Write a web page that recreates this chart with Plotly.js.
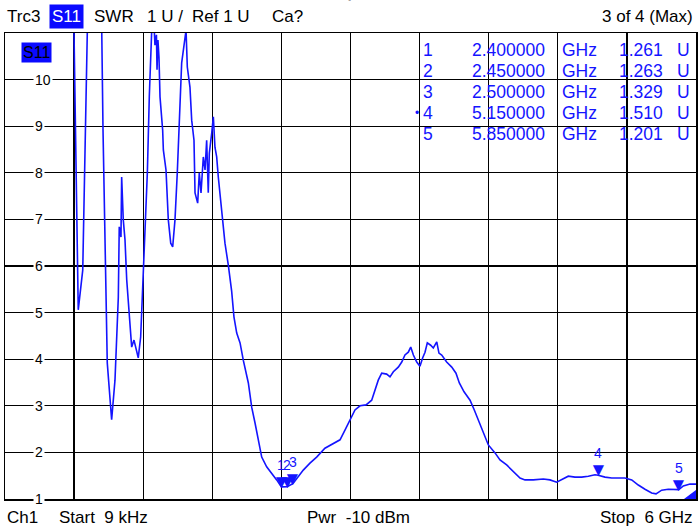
<!DOCTYPE html>
<html>
<head>
<meta charset="utf-8">
<script src="https://cdn.plot.ly/plotly-3.0.1.min.js"></script>
<style>
  body { margin: 0; background: #fff; }
  #chart { width: 700px; height: 530px; }
</style>
</head>
<body>
<div id="chart"></div>
<script>
// S11 SWR trace, frequency in GHz, SWR in U
var freqGHz = [
  0, 0.30, 0.59, 0.599, 0.617, 0.636, 0.675, 0.695, 0.715, 0.773,
  0.840, 0.851, 0.868, 0.888, 0.926, 0.955, 0.984, 0.992, 1.007, 1.013,
  1.027, 1.042, 1.057, 1.085, 1.100, 1.120, 1.137, 1.157, 1.178, 1.196,
  1.216, 1.236, 1.253, 1.265, 1.274, 1.290, 1.302, 1.315, 1.320, 1.328,
  1.337, 1.346, 1.369, 1.375, 1.398, 1.418, 1.439, 1.456, 1.476, 1.496,
  1.520, 1.534, 1.572, 1.583, 1.606, 1.621, 1.641, 1.650, 1.673, 1.687,
  1.702, 1.722, 1.737, 1.751, 1.765, 1.774, 1.795, 1.809, 1.823, 1.838,
  1.852, 1.882, 1.910, 1.939, 1.968, 1.988, 2.012, 2.041, 2.069, 2.113,
  2.142, 2.171, 2.199, 2.229, 2.272, 2.316, 2.359, 2.400, 2.450, 2.500,
  2.561, 2.590, 2.648, 2.706, 2.778, 2.851, 2.909, 2.952, 2.981, 3.010,
  3.039, 3.083, 3.135, 3.184, 3.213, 3.241, 3.271, 3.314, 3.343, 3.372,
  3.415, 3.445, 3.473, 3.502, 3.523, 3.546, 3.575, 3.603, 3.627, 3.647,
  3.667, 3.696, 3.719, 3.749, 3.768, 3.792, 3.835, 3.879, 3.916, 3.945,
  3.986, 4.038, 4.075, 4.110, 4.153, 4.197, 4.255, 4.298, 4.356, 4.414,
  4.472, 4.515, 4.587, 4.674, 4.732, 4.790, 4.848, 4.891, 4.949, 5.007,
  5.065, 5.123, 5.150, 5.210, 5.268, 5.325, 5.383, 5.442, 5.499, 5.557,
  5.615, 5.653, 5.702, 5.759, 5.850, 5.890, 5.948, 6.000
];
var swrU = [
  40, 25, 12.5, 11.06, 8.21, 5.06, 5.91, 8.70, 11.06, 14,
  11.06, 8.92, 6.77, 3.92, 2.70, 3.55, 5.33, 6.84, 6.62, 7.91,
  6.99, 6.56, 5.70, 4.78, 4.26, 4.41, 4.20, 4.03, 4.48, 5.64,
  6.62, 8.00, 9.63, 10.70, 11.06, 11.40, 10.74, 10.96, 10.21, 10.85,
  10.48, 9.63, 8.92, 8.49, 8.06, 6.99, 6.49, 6.41, 6.99, 8.00,
  9.28, 10.36, 11.06, 10.27, 9.84, 9.13, 8.70, 7.57, 7.35, 8.00,
  7.57, 8.34, 8.06, 8.70, 7.57, 8.42, 8.85, 9.20, 8.55, 8.34,
  7.91, 7.20, 6.49, 6.02, 5.46, 4.91, 4.56, 4.35, 3.98, 3.49,
  2.97, 2.63, 2.27, 1.90, 1.69, 1.56, 1.41, 1.261, 1.263, 1.329,
  1.52, 1.62, 1.77, 1.90, 2.09, 2.20, 2.27, 2.48, 2.63, 2.76,
  2.91, 3.00, 3.02, 3.12, 3.34, 3.55, 3.70, 3.68, 3.62, 3.73,
  3.83, 3.94, 4.09, 4.15, 4.26, 4.09, 3.94, 3.85, 4.03, 4.15,
  4.35, 4.30, 4.24, 4.37, 4.13, 4.09, 3.94, 3.83, 3.70, 3.49,
  3.30, 3.12, 2.91, 2.70, 2.42, 2.16, 1.99, 1.84, 1.73, 1.58,
  1.45, 1.41, 1.41, 1.43, 1.41, 1.36, 1.43, 1.49, 1.47, 1.47,
  1.49, 1.52, 1.510, 1.47, 1.45, 1.45, 1.45, 1.41, 1.30, 1.21,
  1.13, 1.11, 1.19, 1.21, 1.201, 1.28, 1.32, 1.32
];

// markers
var markerNo   = [1, 2, 3, 4, 5];
var markerFreq = [2.40, 2.45, 2.50, 5.15, 5.85];
var markerSwr  = [1.261, 1.263, 1.329, 1.510, 1.201];
var activeMarker = 4;

var yTicks = [1, 2, 3, 4, 5, 6, 7, 8, 9, 10];

var blue = '#1414ff';
var fontFam = 'Liberation Sans, Arial, sans-serif';

var trace = {
    x: freqGHz,
    y: swrU,
    type: 'scatter',
    mode: 'lines',
    line: { color: blue, width: 1.6 },
    hoverinfo: 'skip'
};

var ann = [];

// y scale labels sit on the grid, with the line cut away
yTicks.forEach(function (v) {
    ann.push({ xref: 'paper', yref: 'y', x: 0.04, y: v, yanchor: 'middle', text: String(v),
        showarrow: false, bgcolor: '#fff', borderpad: 1,
        font: { size: 14, color: '#000' } });
});

ann.push({ xref: 'paper', yref: 'paper', x: 0.045, y: 0.959, xanchor: 'center', yanchor: 'middle',
    text: 'S11', showarrow: false, bgcolor: '#0a0aff', borderpad: 1,
    font: { size: 16, color: '#000' } });

// marker table
var rowY = [0.9635, 0.9185, 0.8734, 0.8283, 0.7833];
markerNo.forEach(function (n, i) {
    var f = { size: 17.5, color: blue };
    function cell(txt, x, xa) {
        ann.push({ xref: 'paper', yref: 'paper', x: x, y: rowY[i], xanchor: xa, yanchor: 'middle',
            text: txt, showarrow: false, font: f });
    }
    cell(String(n), 0.602, 'left');
    cell(markerFreq[i].toFixed(6), 0.7844, 'right');
    cell('GHz', 0.803, 'left');
    cell(markerSwr[i].toFixed(3), 0.955, 'right');
    cell('U', 0.9696, 'left');
    if (n === activeMarker) {
        ann.push({ xref: 'paper', yref: 'paper', x: 0.6015, y: rowY[i], xanchor: 'right', yanchor: 'middle',
            text: '•', showarrow: false, font: { size: 12, color: blue } });
    }
    // marker symbol + number on the trace
    ann.push({ x: markerFreq[i], y: markerSwr[i], yanchor: 'bottom', yshift: -7,
        text: '▼', showarrow: false, font: { size: 19, color: blue } });
    ann.push({ x: markerFreq[i], y: markerSwr[i], yanchor: 'middle', yshift: 22,
        text: String(n), showarrow: false, font: { size: 14, color: blue } });
});

// header
var headY = 1.036;
function hdr(txt, x, anchor, extra) {
    var a = { xref: 'paper', yref: 'paper', x: x, y: headY, xanchor: anchor || 'left', yanchor: 'middle',
        text: txt, showarrow: false, font: { size: 17, color: '#000' } };
    for (var k in extra) a[k] = extra[k];
    ann.push(a);
}
hdr('Trc3', 0.0);
hdr('S11', 0.063, 'left', { bgcolor: '#0a0aff', borderpad: 2, font: { size: 17, color: '#fff' } });
hdr('SWR', 0.126);
hdr('1 U /', 0.2026);
hdr('Ref\u00a01 U', 0.2677);
hdr('Ca?', 0.3835);
hdr('3 of 4 (Max)', 0.998, 'right');
ann.push({ xref: 'paper', yref: 'paper', x: 0.499, y: 1.062, yanchor: 'middle', text: 'ˇ', showarrow: false,
    font: { size: 10, color: '#888' } });

// footer
var footY = -0.039;
[['Ch1', 0.0, 'left'], ['Start\u00a0\u00a09 kHz', 0.075, 'left'],
 ['Pwr\u00a0 -10 dBm', 0.434, 'left'], ['Stop\u00a0\u00a06 GHz', 0.998, 'right']
].forEach(function (t) {
    ann.push({ xref: 'paper', yref: 'paper', x: t[1], y: footY, xanchor: t[2], yanchor: 'middle',
        text: t[0], showarrow: false, font: { size: 17, color: '#000' } });
});

var layout = {
    width: 700,
    height: 530,
    margin: { l: 5, r: 4, t: 33, b: 31 },
    paper_bgcolor: '#fff',
    plot_bgcolor: '#fff',
    font: { family: fontFam, color: '#000' },
    showlegend: false,
    xaxis: {
        range: [0, 6], tick0: 0, dtick: 0.6,
        showgrid: true, gridcolor: '#000', gridwidth: 1.3,
        showline: true, mirror: true, linecolor: '#000', linewidth: 1.5,
        zeroline: false, showticklabels: false, ticks: '', fixedrange: true
    },
    yaxis: {
        range: [1, 11], tick0: 1, dtick: 1,
        showgrid: true, gridcolor: '#000', gridwidth: 1.3,
        showline: true, mirror: true, linecolor: '#000', linewidth: 1.5,
        zeroline: false, showticklabels: false, ticks: '', fixedrange: true
    },
    annotations: ann,
    shapes: [{
        type: 'path', xref: 'paper', yref: 'paper',
        path: 'M 0.9826 0 L 1 0 L 1 0.0193 Z',
        fillcolor: blue, line: { width: 0 }
    }]
};

Plotly.newPlot('chart', [trace], layout, { displayModeBar: false, staticPlot: true });
</script>
</body>
</html>
